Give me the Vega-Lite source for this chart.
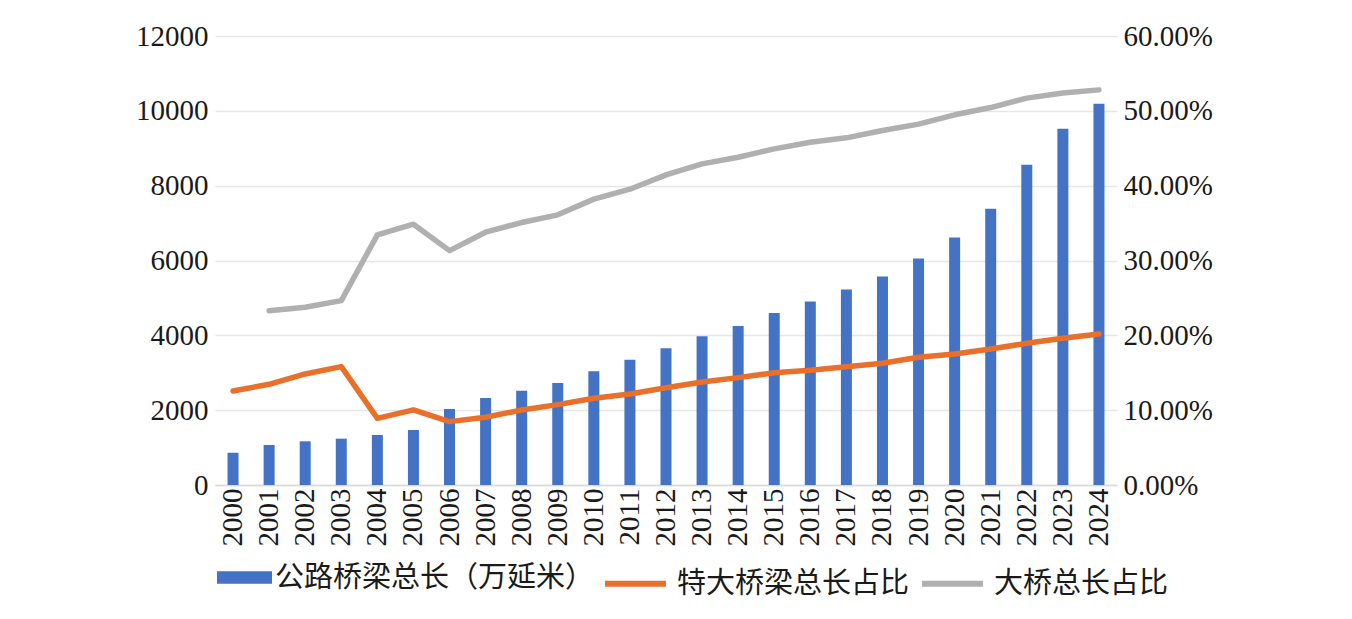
{
  "$schema": "https://vega.github.io/schema/vega-lite/v6.json",
  "autosize": {"type": "none"},
  "padding": {"left": 215, "top": 36, "right": 235, "bottom": 134},
  "width": 902,
  "height": 449,
  "background": "white",
  "config": {
    "view": {"stroke": null},
    "axis": {
      "labelFont": "Times New Roman, Liberation Serif, serif",
      "labelFontSize": 29,
      "labelColor": "#1a1a1a",
      "ticks": false,
      "title": null
    },
    "legend": {
      "labelFont": "Noto Sans CJK SC",
      "labelFontSize": 29,
      "labelColor": "#1a1a1a",
      "labelLimit": 500,
      "title": null
    }
  },
  "datasets": {
    "bars": [
      {"year": "2000", "length": 864},
      {"year": "2001", "length": 1070},
      {"year": "2002", "length": 1168},
      {"year": "2003", "length": 1238},
      {"year": "2004", "length": 1337},
      {"year": "2005", "length": 1470},
      {"year": "2006", "length": 2032},
      {"year": "2007", "length": 2326},
      {"year": "2008", "length": 2522},
      {"year": "2009", "length": 2727},
      {"year": "2010", "length": 3040},
      {"year": "2011", "length": 3350},
      {"year": "2012", "length": 3655},
      {"year": "2013", "length": 3975},
      {"year": "2014", "length": 4251},
      {"year": "2015", "length": 4599},
      {"year": "2016", "length": 4902},
      {"year": "2017", "length": 5222},
      {"year": "2018", "length": 5570},
      {"year": "2019", "length": 6051},
      {"year": "2020", "length": 6613},
      {"year": "2021", "length": 7380},
      {"year": "2022", "length": 8556},
      {"year": "2023", "length": 9519},
      {"year": "2024", "length": 10187}
    ],
    "shares": [
      {"year": "2000", "series": "特大桥梁总长占比", "share": 0.1257},
      {"year": "2001", "series": "特大桥梁总长占比", "share": 0.1346},
      {"year": "2002", "series": "特大桥梁总长占比", "share": 0.1484},
      {"year": "2003", "series": "特大桥梁总长占比", "share": 0.1582},
      {"year": "2004", "series": "特大桥梁总长占比", "share": 0.0891},
      {"year": "2005", "series": "特大桥梁总长占比", "share": 0.1003},
      {"year": "2006", "series": "特大桥梁总长占比", "share": 0.0847},
      {"year": "2007", "series": "特大桥梁总长占比", "share": 0.0905},
      {"year": "2008", "series": "特大桥梁总长占比", "share": 0.1003},
      {"year": "2009", "series": "特大桥梁总长占比", "share": 0.1074},
      {"year": "2010", "series": "特大桥梁总长占比", "share": 0.1159},
      {"year": "2011", "series": "特大桥梁总长占比", "share": 0.1217},
      {"year": "2012", "series": "特大桥梁总长占比", "share": 0.13},
      {"year": "2013", "series": "特大桥梁总长占比", "share": 0.1377},
      {"year": "2014", "series": "特大桥梁总长占比", "share": 0.1435},
      {"year": "2015", "series": "特大桥梁总长占比", "share": 0.15},
      {"year": "2016", "series": "特大桥梁总长占比", "share": 0.1533},
      {"year": "2017", "series": "特大桥梁总长占比", "share": 0.158},
      {"year": "2018", "series": "特大桥梁总长占比", "share": 0.1627},
      {"year": "2019", "series": "特大桥梁总长占比", "share": 0.1707},
      {"year": "2020", "series": "特大桥梁总长占比", "share": 0.1751},
      {"year": "2021", "series": "特大桥梁总长占比", "share": 0.1818},
      {"year": "2022", "series": "特大桥梁总长占比", "share": 0.1894},
      {"year": "2023", "series": "特大桥梁总长占比", "share": 0.1961},
      {"year": "2024", "series": "特大桥梁总长占比", "share": 0.2019},
      {"year": "2001", "series": "大桥总长占比", "share": 0.233},
      {"year": "2002", "series": "大桥总长占比", "share": 0.2375},
      {"year": "2003", "series": "大桥总长占比", "share": 0.2464},
      {"year": "2004", "series": "大桥总长占比", "share": 0.3342},
      {"year": "2005", "series": "大桥总长占比", "share": 0.3485},
      {"year": "2006", "series": "大桥总长占比", "share": 0.3132},
      {"year": "2007", "series": "大桥总长占比", "share": 0.3378},
      {"year": "2008", "series": "大桥总长占比", "share": 0.3507},
      {"year": "2009", "series": "大桥总长占比", "share": 0.361},
      {"year": "2010", "series": "大桥总长占比", "share": 0.382},
      {"year": "2011", "series": "大桥总长占比", "share": 0.3953},
      {"year": "2012", "series": "大桥总长占比", "share": 0.4144},
      {"year": "2013", "series": "大桥总长占比", "share": 0.4291},
      {"year": "2014", "series": "大桥总长占比", "share": 0.438},
      {"year": "2015", "series": "大桥总长占比", "share": 0.4492},
      {"year": "2016", "series": "大桥总长占比", "share": 0.458},
      {"year": "2017", "series": "大桥总长占比", "share": 0.4639},
      {"year": "2018", "series": "大桥总长占比", "share": 0.4737},
      {"year": "2019", "series": "大桥总长占比", "share": 0.4822},
      {"year": "2020", "series": "大桥总长占比", "share": 0.4947},
      {"year": "2021", "series": "大桥总长占比", "share": 0.5044},
      {"year": "2022", "series": "大桥总长占比", "share": 0.517},
      {"year": "2023", "series": "大桥总长占比", "share": 0.5237},
      {"year": "2024", "series": "大桥总长占比", "share": 0.528}
    ]
  },
  "encoding": {
    "x": {
      "field": "year",
      "type": "ordinal",
      "scale": {"paddingInner": 0, "paddingOuter": 0},
      "axis": {
        "labelAngle": 270,
        "labelPadding": 3,
        "domainColor": "#d9d9d9",
        "domainWidth": 1.5
      }
    }
  },
  "layer": [
    {
      "data": {"name": "bars"},
      "mark": {"type": "bar", "width": 11},
      "encoding": {
        "y": {
          "field": "length",
          "type": "quantitative",
          "scale": {"domain": [0, 12000], "nice": false},
          "axis": {
            "orient": "left",
            "values": [0, 2000, 4000, 6000, 8000, 10000, 12000],
            "format": "d",
            "domain": false,
            "grid": true,
            "gridColor": "#e6e6e6",
            "gridWidth": 1.3,
            "labelPadding": 7
          }
        },
        "fill": {
          "datum": "公路桥梁总长（万延米）",
          "scale": {"range": ["#4472C4"]},
          "legend": {
            "orient": "none",
            "legendX": 2,
            "legendY": 514,
            "direction": "horizontal",
            "symbolType": "M-1,-0.23H1V0.23H-1Z",
            "symbolSize": 3025,
            "symbolStrokeWidth": 0,
            "labelOffset": 3
          }
        }
      }
    },
    {
      "data": {"name": "shares"},
      "mark": {"type": "line", "strokeWidth": 5.5, "strokeCap": "round", "strokeJoin": "round"},
      "encoding": {
        "y": {
          "field": "share",
          "type": "quantitative",
          "scale": {"domain": [0, 0.6], "nice": false},
          "axis": {
            "orient": "right",
            "values": [0, 0.1, 0.2, 0.3, 0.4, 0.5, 0.6],
            "format": ".2%",
            "domain": false,
            "grid": false,
            "labelPadding": 6
          }
        },
        "stroke": {
          "field": "series",
          "type": "nominal",
          "scale": {
            "domain": ["特大桥梁总长占比", "大桥总长占比"],
            "range": ["#E8702A", "#B0B0B0"]
          },
          "legend": {
            "orient": "none",
            "legendX": 387,
            "legendY": 514,
            "direction": "horizontal",
            "symbolType": "stroke",
            "symbolSize": 3721,
            "symbolStrokeWidth": 6,
            "labelOffset": 8,
            "columnPadding": 0
          }
        }
      }
    }
  ],
  "resolve": {"scale": {"y": "independent"}}
}
